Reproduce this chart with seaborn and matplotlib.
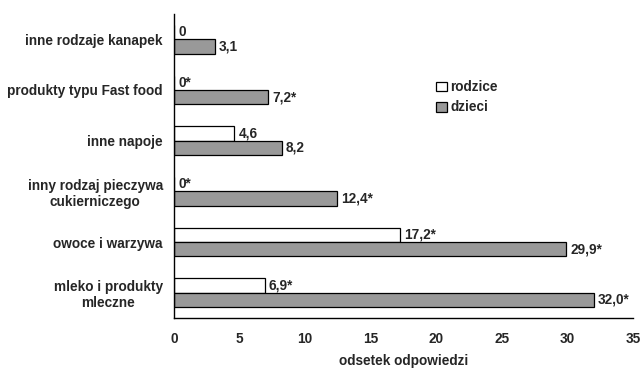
import matplotlib
matplotlib.use("Agg")
import matplotlib.pyplot as plt
import seaborn as sns
import pandas as pd
import numpy as np

categories = [
    "inne rodzaje kanapek",
    "produkty typu Fast food",
    "inne napoje",
    "inny rodzaj pieczywa\ncukierniczego",
    "owoce i warzywa",
    "mleko i produkty\nmleczne",
]
rodzice = [0.0, 0.0, 4.6, 0.0, 17.2, 6.9]
dzieci = [3.1, 7.2, 8.2, 12.4, 29.9, 32.0]
rodzice_labels = ["0", "0*", "4,6", "0*", "17,2*", "6,9*"]
dzieci_labels = ["3,1", "7,2*", "8,2", "12,4*", "29,9*", "32,0*"]
series = ["rodzice", "dzieci"]
xticks = [0, 5, 10, 15, 20, 25, 30, 35]

df = pd.DataFrame({
    "kategoria": categories * 2,
    "grupa": [series[0]] * len(categories) + [series[1]] * len(categories),
    "odsetek": rodzice + dzieci,
})

sns.set_style("white")
plt.rcParams["font.family"] = ["Liberation Sans", "DejaVu Sans"]
plt.rcParams["font.weight"] = "bold"
FS = 9.8

fig = plt.figure(figsize=(6.41, 3.70), dpi=100)
ax = fig.add_axes([0.2715, 0.1405, 0.716, 0.8217])

sns.barplot(
    data=df, y="kategoria", x="odsetek", hue="grupa", order=categories,
    hue_order=series, palette=["white", "#999999"], orient="h",
    width=0.56, edgecolor="black", linewidth=0.9, saturation=1,
    ax=ax, legend=True,
)

for cont, labels in zip(ax.containers, [rodzice_labels, dzieci_labels]):
    ax.bar_label(cont, labels=labels, padding=3, fontsize=FS, fontweight="bold")

ax.set_xlim(0, 35)
ax.set_ylim(len(categories) - 0.5, -0.5)
ax.set_xticks(xticks)
ax.set_xticklabels([str(t) for t in xticks], fontsize=FS, fontweight="bold")
ax.set_xlabel("odsetek odpowiedzi", fontsize=FS, fontweight="bold", labelpad=6)
ax.set_ylabel("")

ax.set_yticks(range(len(categories)))
ax.set_yticklabels(categories, fontsize=FS, fontweight="bold", multialignment="center")
ax.set_yticks(np.arange(-0.5, len(categories), 1.0), minor=True)
ax.tick_params(axis="y", which="major", length=0, pad=8)
ax.tick_params(axis="y", which="minor", length=5, width=1, color="black", direction="out")
ax.tick_params(axis="x", which="major", length=5, width=1, color="black", direction="out", pad=5)

for side in ["top", "right"]:
    ax.spines[side].set_visible(False)
for side in ["left", "bottom"]:
    ax.spines[side].set_color("black")
    ax.spines[side].set_linewidth(1)

leg = ax.legend(
    loc="upper left", bbox_to_anchor=(0.56, 0.80), frameon=False,
    fontsize=FS, handlelength=0.75, handleheight=0.75, handletextpad=0.25,
    labelspacing=0.45, borderaxespad=0,
)
for t in leg.get_texts():
    t.set_fontweight("bold")

fig.savefig("out.png", dpi=100)
